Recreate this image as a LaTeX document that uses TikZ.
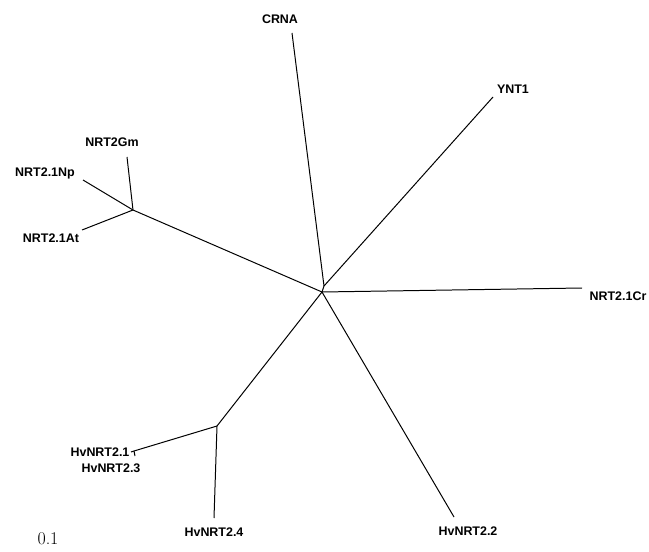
\documentclass[tikz,border=0pt]{standalone}
\usepackage{fontspec}
\setsansfont{Liberation Sans}
\usetikzlibrary{positioning}
\tikzset{
    branch/.style={line width=1pt},
    leaf/.style={font=\sffamily\bfseries\fontsize{12.5}{14}\selectfont, inner sep=0pt},
    scalelabel/.style={font=\fontsize{18}{19}\selectfont, inner sep=0pt},
}

\begin{document}
\begin{tikzpicture}[x=1bp, y=-1bp]
    \useasboundingbox (0,0) rectangle (649,552);

    % Inner nodes of the tree
    \coordinate (root) at (322,292);
    \coordinate (up) at (324,286);
    \coordinate (nrt) at (133,210);
    \coordinate (hv) at (217,426);
    \coordinate (hvs) at (134,451);

    % Branch tips
    \coordinate (tCRNA) at (292,33);
    \coordinate (tYNT) at (493,97);
    \coordinate (tGm) at (127,157);
    \coordinate (tNp) at (83,180);
    \coordinate (tAt) at (82,230);
    \coordinate (tCr) at (582,288);
    \coordinate (tHvb) at (454,517);
    \coordinate (tHvd) at (214,518);
    \coordinate (tHva) at (131,452);
    \coordinate (tHvc) at (135,456);

    % Branches
    \draw[branch] (root) -- (up);
    \draw[branch] (up) -- (tCRNA);
    \draw[branch] (up) -- (tYNT);
    \draw[branch] (root) -- (tCr);
    \draw[branch] (root) -- (tHvb);
    \draw[branch] (root) -- (nrt);
    \draw[branch] (nrt) -- (tGm);
    \draw[branch] (nrt) -- (tNp);
    \draw[branch] (nrt) -- (tAt);
    \draw[branch] (root) -- (hv);
    \draw[branch] (hv) -- (tHvd);
    \draw[branch] (hv) -- (hvs);
    \draw[branch] (hvs) -- (tHva);
    \draw[branch] (hvs) -- (tHvc);

    % Labels
    \node[leaf] (CRNA) at (280,19) {CRNA};
    \node[leaf] (YNT) at (513,89) {YNT1};
    \node[leaf] (Gm) at (112,142) {NRT2Gm};
    \node[leaf] (Np) at (45,173) {NRT2.1Np};
    \node[leaf] (At) at (51,238) {NRT2.1At};
    \node[leaf] (Cr) at (618,296) {NRT2.1Cr};
    \node[leaf] (Hvb) at (468,531) {HvNRT2.2};
    \node[leaf] (Hvd) at (214,532) {HvNRT2.4};
    \node[leaf] (Hva) at (100,452) {HvNRT2.1};
    \node[leaf] (Hvc) at (111,468) {HvNRT2.3};

    \node[scalelabel] (scale) at (48,539) {0.1};
\end{tikzpicture}
\end{document}
